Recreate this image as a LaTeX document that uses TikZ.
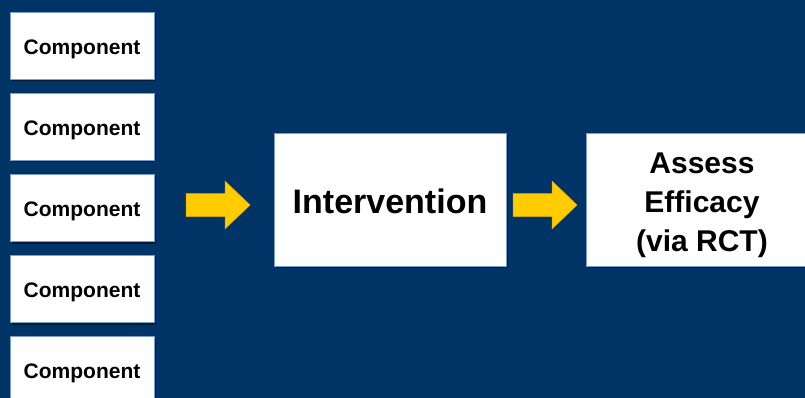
\documentclass[tikz,border=0pt]{standalone}
\usepackage{fontspec}
\setmainfont{Liberation Sans}
\usetikzlibrary{shadows}
\definecolor{navy}{RGB}{0,51,102}
\definecolor{boxedge}{RGB}{120,160,205}
\definecolor{arrowcol}{RGB}{255,204,0}
\definecolor{arrowedge}{RGB}{230,170,0}
\newcommand{\lowered}[2]{\raisebox{-#1}[\height][\depth]{#2}}
\tikzset{
  box/.style={draw=boxedge, line width=0.8pt, fill=white, inner sep=0pt, align=center,
    font=\bfseries, text=black,
    drop shadow={shadow xshift=1.5pt, shadow yshift=-2pt, opacity=0.45, fill=black}},
  compbox/.style={box, minimum width=144pt, minimum height=67pt, font=\bfseries\fontsize{21}{25}\selectfont},
  bigbox/.style={box, minimum width=232pt, minimum height=133pt},
  blockarrow/.pic={\fill[arrowcol, draw=arrowedge, line width=0.5pt]
    (0,-11.5) -- (39,-11.5) -- (39,-24) -- (64,0) -- (39,24) -- (39,11.5) -- (0,11.5) -- cycle;}
}
\begin{document}
\begin{tikzpicture}[x=1pt,y=-1pt]
\useasboundingbox (0,0) rectangle (805,398);
\clip (0,0) rectangle (805,398);
\fill[navy] (0,0) rectangle (805,398);
\node[compbox] (c1) at (82,46) {\lowered{3pt}{Component}};
\node[compbox] (c2) at (82,127) {\lowered{3pt}{Component}};
\node[compbox] (c3) at (82,208) {\lowered{3pt}{Component}};
\node[compbox] (c4) at (82,289) {\lowered{3pt}{Component}};
\node[compbox] (c5) at (82,370) {\lowered{3pt}{Component}};
\node[bigbox, font=\bfseries\fontsize{34}{40}\selectfont] (int) at (390,199.5) {\lowered{1.5pt}{Intervention}};
\node[bigbox, font=\bfseries\fontsize{30}{39}\selectfont] (eff) at (702,199.5)
  {\lowered{5pt}{\begin{tabular}{@{}c@{}}Assess\\Efficacy\\(via RCT)\end{tabular}}};
\coordinate (a1) at (186,205);
\coordinate (a2) at (513,205);
\pic (arr1) at (a1) {blockarrow};
\pic (arr2) at (a2) {blockarrow};
\end{tikzpicture}
\end{document}
